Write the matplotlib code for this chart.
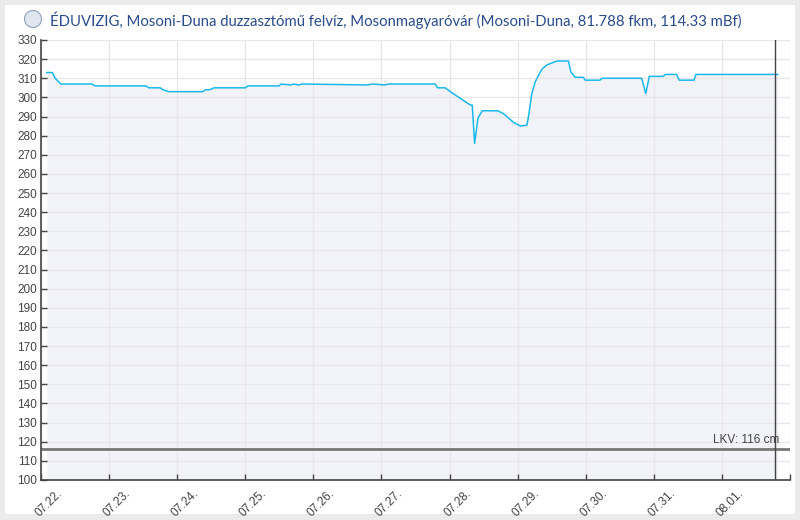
import numpy as np
import pandas as pd
import matplotlib
matplotlib.use("Agg")
import matplotlib.pyplot as plt
import matplotlib.dates as mdates
import matplotlib.transforms as mtransforms
from matplotlib.patches import Rectangle, Circle

# vízállás adatok (cm)
idopontok = [
    "2024-07-22 02:00", "2024-07-22 04:00", "2024-07-22 05:00", "2024-07-22 07:00",
    "2024-07-22 18:00", "2024-07-22 19:00", "2024-07-23 13:00", "2024-07-23 14:00",
    "2024-07-23 18:00", "2024-07-23 19:00", "2024-07-23 21:00", "2024-07-24 09:00",
    "2024-07-24 10:00", "2024-07-24 11:30", "2024-07-24 13:00", "2024-07-25 00:00",
    "2024-07-25 01:00", "2024-07-25 12:00", "2024-07-25 12:30", "2024-07-25 16:00",
    "2024-07-25 17:00", "2024-07-25 19:00", "2024-07-25 20:00", "2024-07-26 19:00",
    "2024-07-26 21:00", "2024-07-27 01:00", "2024-07-27 02:30", "2024-07-27 19:00",
    "2024-07-27 19:45", "2024-07-27 22:30", "2024-07-28 00:15", "2024-07-28 07:20",
    "2024-07-28 08:00", "2024-07-28 08:50", "2024-07-28 10:00", "2024-07-28 11:30",
    "2024-07-28 17:00", "2024-07-28 19:00", "2024-07-28 22:30", "2024-07-29 01:00",
    "2024-07-29 03:15", "2024-07-29 03:50", "2024-07-29 05:00", "2024-07-29 06:10",
    "2024-07-29 07:25", "2024-07-29 08:35", "2024-07-29 10:20", "2024-07-29 12:05",
    "2024-07-29 13:50", "2024-07-29 17:55", "2024-07-29 18:45", "2024-07-29 20:15",
    "2024-07-29 23:10", "2024-07-29 23:50", "2024-07-30 05:00", "2024-07-30 05:50",
    "2024-07-30 19:45", "2024-07-30 21:10", "2024-07-30 22:25", "2024-07-31 03:20",
    "2024-07-31 04:00", "2024-07-31 08:00", "2024-07-31 09:00", "2024-07-31 14:10",
    "2024-07-31 14:50", "2024-08-01 19:40",
]
vizallas = [
    313, 313, 310, 307,
    307, 306, 306, 305,
    305, 304, 303, 303,
    304, 304, 305, 305,
    306, 306, 307, 306.5,
    307, 306.5, 307, 306.5,
    307, 306.5, 307, 307,
    305, 305, 303, 296,
    296, 276, 289, 293,
    293, 291.5, 287, 285,
    285.5, 290, 302, 308,
    311.7, 314.8, 317, 318,
    319, 319, 313.4, 310.5,
    310.5, 309, 309, 310,
    310, 302, 311, 311,
    312, 312, 309, 309,
    312, 312,
]
lkv = 116
most = "2024-08-01 18:40"
x_kezdet = "2024-07-22 00:00"
x_veg = "2024-08-02 00:00"
cim = "ÉDUVIZIG, Mosoni-Duna duzzasztómű felvíz, Mosonmagyaróvár (Mosoni-Duna, 81.788 fkm, 114.33 mBf)"

t = pd.to_datetime(idopontok)
v = np.array(vizallas)

fig = plt.figure(figsize=(8, 5.2), dpi=100)
fig.patch.set_facecolor("#ebebeb")
# pixel koordináták a keret és a logó számára
px = mtransforms.Affine2D().scale(1 / 800, 1 / 520) + fig.transFigure
fig.patches.append(Rectangle((5, 6), 790, 509, transform=px, facecolor="white",
                             edgecolor="none", zorder=-2))
fig.patches.append(Circle((33, 520 - 19), 8.5, transform=px,
                          facecolor="#dfe6f0", edgecolor="#8fa0bd", lw=0.8, zorder=1))

ax = fig.add_axes([41 / 800, 40 / 520, 749 / 800, 440 / 520])
ax.set_facecolor("white")

ax.fill_between(t, v, 100, color="#f2f3f8", lw=0, zorder=0.4)
ax.plot(t, v, color="#1ab8ea", lw=1.1, zorder=3)
ax.axhline(lkv, color="#777777", lw=2, zorder=2.5)
ax.axvline(pd.Timestamp(most), color="#444444", lw=1, zorder=3)
ax.text(pd.Timestamp(most) + pd.Timedelta(hours=1.5), lkv + 2, f"LKV: {lkv} cm",
        ha="right", va="bottom", fontsize=8.5, color="#444444",
        family="Liberation Sans", zorder=4)

ax.set_xlim(pd.Timestamp(x_kezdet), pd.Timestamp(x_veg))
ax.set_ylim(100, 330)
ax.set_yticks(np.arange(100, 331, 10))
ax.xaxis.set_major_locator(mdates.DayLocator())
ax.xaxis.set_major_formatter(mdates.DateFormatter("%m.%d."))

ax.set_axisbelow(True)
ax.grid(True, color="#e8e8ec", lw=1)
for s in ["top", "right"]:
    ax.spines[s].set_visible(False)
for s in ["left", "bottom"]:
    ax.spines[s].set_color("#444444")
    ax.spines[s].set_linewidth(1.2)

ax.tick_params(axis="both", direction="in", length=4, width=1, color="#444444",
               labelsize=8.5, labelcolor="#444444")
ax.tick_params(axis="y", pad=3)
for lab in ax.get_yticklabels():
    lab.set_family("Liberation Sans")

labels = ax.get_xticklabels()
offset = mtransforms.ScaledTranslation(8 / 100, -3 / 100, fig.dpi_scale_trans)
for lab in labels:
    lab.set_rotation(45)
    lab.set_ha("center")
    lab.set_family("Liberation Sans")
    lab.set_transform(lab.get_transform() + offset)
# utolsó (08.02.) felirat elrejtése
labels[-1].set_visible(False)

fig.text(50 / 800, 1 - 20 / 520, cim, ha="left", va="center", fontsize=10.7,
         color="#2a4b8d", family="Lato")

fig.savefig("out.png", dpi=100, facecolor=fig.get_facecolor())
